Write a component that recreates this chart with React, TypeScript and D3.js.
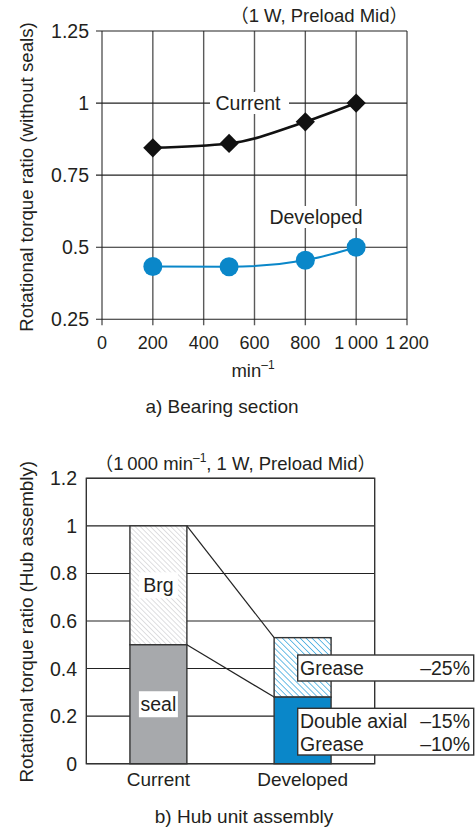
import React from "react";
import * as d3 from "d3";

// ---- Data: a) Bearing section ----
const speeds = [200, 500, 800, 1000];
const currentRatio = [0.845, 0.86, 0.935, 1.0];
const developedRatio = [0.433, 0.432, 0.455, 0.5];
const xTicksTop = [0, 200, 400, 600, 800, 1000, 1200];
const xTickLabelsTop = ["0", "200", "400", "600", "800", "1\u2009000", "1\u2009200"];
const yTicksTop = [0.25, 0.5, 0.75, 1, 1.25];
const yTickLabelsTop = ["0.25", "0.5", "0.75", "1", "1.25"];

// ---- Data: b) Hub unit assembly ----
const hubCategories = ["Current", "Developed"];
const lowerPart = [0.5, 0.28]; // seal / improved seal
const upperPart = [0.5, 0.25]; // Brg / improved grease
const lowerLabels = ["seal", ""];
const upperLabels = ["Brg", ""];
const yTicksBottom = [0, 0.2, 0.4, 0.6, 0.8, 1, 1.2];
const yTickLabelsBottom = ["0", "0.2", "0.4", "0.6", "0.8", "1", "1.2"];
const noteTop = [["Grease", "\u201325%"]];
const noteBottom = [["Double axial", "\u201315%"], ["Grease", "\u201310%"]];

const FONT = "'Liberation Sans', Arial, Helvetica, 'Noto Sans CJK JP', sans-serif";
const TXT = "#231f20";
const BLUE = "#0a87c9";
const GREY = "#a7a9ac";

export default function App() {
  // top chart scales
  const x = d3.scaleLinear().domain([0, 1200]).range([102, 407]);
  const y = d3.scaleLinear().domain([0.25, 1.25]).range([319.3, 31]);
  const line = d3
    .line<number>()
    .x((_, i) => x(speeds[i]))
    .y((d) => d)
    .curve(d3.curveMonotoneX);
  const curPath = line(currentRatio.map((v) => y(v))) || "";
  const devPath = line(developedRatio.map((v) => y(v))) || "";
  const diamond = d3.symbol(d3.symbolSquare, 185)() || "";

  // bottom chart scales
  const xb = d3
    .scaleBand()
    .domain(hubCategories)
    .range([86.3, 374.7])
    .paddingInner(0.605)
    .paddingOuter(0.3025);
  const yb = d3.scaleLinear().domain([0, 1.2]).range([763.7, 478.3]);
  const bw = xb.bandwidth();

  const curX = xb("Current")!;
  const devX = xb("Developed")!;
  const totals = lowerPart.map((v, i) => v + upperPart[i]);

  return (
    <svg
      width={475}
      height={828}
      style={{ position: "absolute", left: 0, top: 0, background: "#fff" }}
      fontFamily={FONT}
      fill={TXT}
    >
      <defs>
        <pattern id="hatchGrey" width={3.6} height={3.6} patternUnits="userSpaceOnUse" patternTransform="rotate(-45)">
          <rect width={3.6} height={3.6} fill="#fff" />
          <line x1={0} y1={0} x2={0} y2={3.6} stroke="#c4c5c7" strokeWidth={1.1} />
        </pattern>
        <pattern id="hatchBlue" width={4.2} height={4.2} patternUnits="userSpaceOnUse" patternTransform="rotate(-45)">
          <rect width={4.2} height={4.2} fill="#fff" />
          <line x1={0} y1={0} x2={0} y2={4.2} stroke="#49ade0" strokeWidth={1.6} />
        </pattern>
      </defs>

      {/* ================= a) Bearing section ================= */}
      <text x={408} y={22} fontSize={18.5} textAnchor="end">
        （1 W, Preload Mid）
      </text>

      {/* vertical grid */}
      {xTicksTop.map((t) => (
        <line key={"vx" + t} x1={x(t)} x2={x(t)} y1={y(1.25)} y2={y(0.25) + 6} stroke="#5a5a5a" strokeWidth={1.4} />
      ))}
      {/* horizontal grid */}
      {yTicksTop.map((t) => (
        <line key={"hy" + t} x1={x(0) - 6} x2={x(1200)} y1={y(t)} y2={y(t)} stroke="#222" strokeWidth={1.1} />
      ))}
      {/* y tick labels */}
      {yTicksTop.map((t, i) => (
        <text key={"yl" + t} x={89} y={y(t)} dy="0.36em" fontSize={19.5} textAnchor="end">
          {yTickLabelsTop[i]}
        </text>
      ))}
      {/* x tick labels */}
      {xTicksTop.map((t, i) => (
        <text key={"xl" + t} x={x(t)} y={348.5} fontSize={18} textAnchor="middle">
          {xTickLabelsTop[i]}
        </text>
      ))}
      <text x={253} y={376.5} fontSize={18.5} textAnchor="middle">
        min
        <tspan fontSize={12} dy={-8}>
          {"\u20131"}
        </tspan>
      </text>
      <text x={222} y={412.5} fontSize={19} textAnchor="middle">
        a) Bearing section
      </text>
      <text transform={`translate(33,177) rotate(-90)`} fontSize={18.7} textAnchor="middle">
        Rotational torque ratio (without seals)
      </text>

      {/* series labels with white backgrounds */}
      <rect x={210} y={92} width={79} height={22} fill="#fff" />
      <text x={248} y={110} fontSize={19.5} textAnchor="middle">
        Current
      </text>
      <rect x={268} y={206} width={97} height={22} fill="#fff" />
      <text x={316} y={224} fontSize={19.5} textAnchor="middle">
        Developed
      </text>

      {/* lines */}
      <path d={curPath} fill="none" stroke="#111" strokeWidth={2.6} />
      <path d={devPath} fill="none" stroke={BLUE} strokeWidth={2} />
      {speeds.map((s, i) => (
        <path
          key={"dm" + s}
          d={diamond}
          transform={`translate(${x(s)},${y(currentRatio[i])}) rotate(45)`}
          fill="#111"
        />
      ))}
      {speeds.map((s, i) => (
        <circle key={"dc" + s} cx={x(s)} cy={y(developedRatio[i])} r={9.5} fill={BLUE} />
      ))}

      {/* ================= b) Hub unit assembly ================= */}
      <text x={376} y={470} fontSize={18.5} textAnchor="end">
        （1{"\u2009"}000 min
        <tspan fontSize={12} dy={-8}>
          {"\u20131"}
        </tspan>
        <tspan dy={8}>, 1 W, Preload Mid）</tspan>
      </text>

      {yTicksBottom.map((t) => (
        <line key={"hb" + t} x1={86.3} x2={374.7} y1={yb(t)} y2={yb(t)} stroke="#222" strokeWidth={1.1} />
      ))}
      <rect x={86.3} y={yb(1.2)} width={374.7 - 86.3} height={yb(0) - yb(1.2)} fill="none" stroke="#333" strokeWidth={1.4} />
      {yTicksBottom.map((t, i) => (
        <text key={"ybl" + t} x={77} y={yb(t)} dy="0.36em" fontSize={19.5} textAnchor="end">
          {yTickLabelsBottom[i]}
        </text>
      ))}
      <text transform={`translate(33,621.7) rotate(-90)`} fontSize={18.8} textAnchor="middle">
        Rotational torque ratio (Hub assembly)
      </text>

      {/* connectors */}
      <line x1={curX + bw} y1={yb(totals[0])} x2={devX} y2={yb(totals[1])} stroke="#222" strokeWidth={1.2} />
      <line x1={curX + bw} y1={yb(lowerPart[0])} x2={devX} y2={yb(lowerPart[1])} stroke="#222" strokeWidth={1.2} />

      {/* bars */}
      {hubCategories.map((c, i) => {
        const bx = xb(c)!;
        const lowerFill = i === 0 ? GREY : BLUE;
        const upperFill = i === 0 ? "url(#hatchGrey)" : "url(#hatchBlue)";
        return (
          <g key={"bar" + c}>
            <rect x={bx} y={yb(totals[i])} width={bw} height={yb(lowerPart[i]) - yb(totals[i])} fill={upperFill} stroke="#333" strokeWidth={1.4} />
            <rect x={bx} y={yb(lowerPart[i])} width={bw} height={yb(0) - yb(lowerPart[i])} fill={lowerFill} stroke="#333" strokeWidth={1.4} />
          </g>
        );
      })}

      {/* in-bar labels */}
      {hubCategories.map((c, i) =>
        upperLabels[i] ? (
          <g key={"ul" + c}>
            <rect x={xb(c)! + bw / 2 - 19.5} y={yb(lowerPart[i] + upperPart[i] / 2) - 13} width={39} height={26} fill="#fff" />
            <text x={xb(c)! + bw / 2} y={yb(lowerPart[i] + upperPart[i] / 2)} dy="0.36em" fontSize={19.5} textAnchor="middle">
              {upperLabels[i]}
            </text>
          </g>
        ) : null
      )}
      {hubCategories.map((c, i) =>
        lowerLabels[i] ? (
          <g key={"ll" + c}>
            <rect x={xb(c)! + bw / 2 - 19.5} y={yb(lowerPart[i] / 2) - 13} width={39} height={26} fill="#fff" />
            <text x={xb(c)! + bw / 2} y={yb(lowerPart[i] / 2)} dy="0.36em" fontSize={19.5} textAnchor="middle">
              {lowerLabels[i]}
            </text>
          </g>
        ) : null
      )}

      {/* annotation boxes */}
      <rect x={297.7} y={655} width={176} height={26} fill="#fff" stroke="#333" strokeWidth={1.4} />
      {noteTop.map((r, i) => (
        <g key={"nt" + i}>
          <text x={300} y={675} fontSize={19.5}>{r[0]}</text>
          <text x={470} y={675} fontSize={19.5} textAnchor="end">{r[1]}</text>
        </g>
      ))}
      <rect x={297.7} y={708.3} width={176} height={46.7} fill="#fff" stroke="#333" strokeWidth={1.4} />
      {noteBottom.map((r, i) => (
        <g key={"nb" + i}>
          <text x={300} y={727.5 + i * 23} fontSize={19.5}>{r[0]}</text>
          <text x={470} y={727.5 + i * 23} fontSize={19.5} textAnchor="end">{r[1]}</text>
        </g>
      ))}

      {/* category labels */}
      {hubCategories.map((c) => (
        <text key={"cl" + c} x={xb(c)! + bw / 2} y={786} fontSize={19} textAnchor="middle">
          {c}
        </text>
      ))}
      <text x={244} y={823} fontSize={19} textAnchor="middle">
        b) Hub unit assembly
      </text>
    </svg>
  );
}
